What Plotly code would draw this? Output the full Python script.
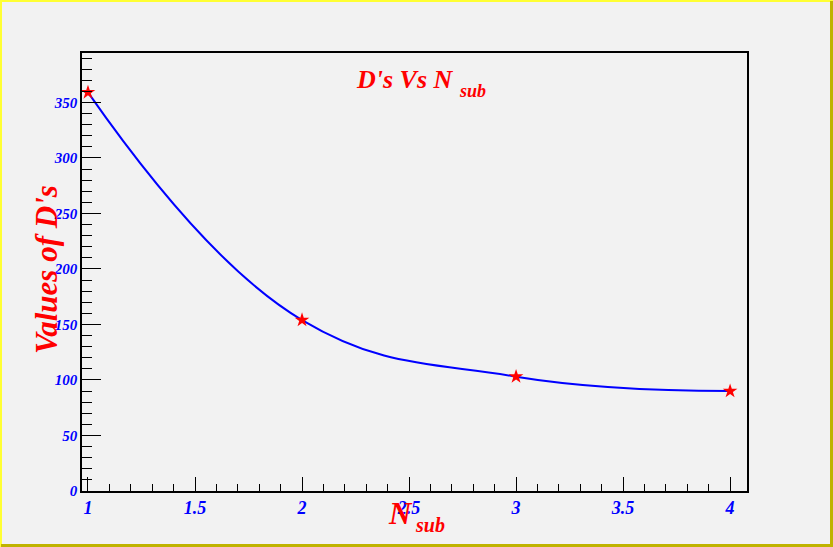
import plotly.graph_objects as go

# Data
n_sub = [1, 2, 3, 4]
d_values = [359, 154, 103, 90]

W, H = 833, 547
L, R, T, B = 82, 747, 53, 491
PW, PH = R - L, B - T

def px(x):
    return (x - L) / PW

def py(y):
    return (B - y) / PH

FONT = "Liberation Serif"
RED = "#ff0000"
BLUE = "#0000ff"

fig = go.Figure()
fig.add_trace(go.Scatter(
    x=n_sub, y=d_values, mode="lines",
    line=dict(color=BLUE, width=2, shape="spline", smoothing=1.2),
    hoverinfo="skip", showlegend=False))
fig.add_trace(go.Scatter(
    x=n_sub, y=d_values, mode="markers",
    marker=dict(symbol="star", color=RED, size=11, line=dict(width=0)),
    showlegend=False))

axis_common = dict(
    showgrid=False, zeroline=False, showline=True, linecolor="black",
    linewidth=1.5, mirror=True, ticks="inside", tickcolor="black",
    tickwidth=1,
)

fig.update_xaxes(
    **axis_common, range=[0.972, 4.079], tick0=1, dtick=0.5, ticklen=14,
    minor=dict(ticks="inside", dtick=0.1, tick0=1, ticklen=7, tickcolor="black"),
    tickfont=dict(family=FONT, size=18, color=BLUE, weight="bold", style="italic"),
)
fig.update_yaxes(
    **axis_common, range=[0, 394.5], tick0=0, dtick=50, ticklen=19,
    minor=dict(ticks="inside", dtick=10, tick0=0, ticklen=10, tickcolor="black"),
    tickfont=dict(family=FONT, size=15, color=BLUE, weight="bold", style="italic"),
)

def txt(s, x, y, size, angle=0, xanchor="center"):
    return dict(text=s, x=px(x), y=py(y), xref="paper", yref="paper",
                showarrow=False, textangle=angle, xanchor=xanchor, yanchor="middle",
                font=dict(family=FONT, size=size, color=RED, weight="bold", style="italic"))

annotations = [
    txt("D's Vs N", 405, 79, 26),
    txt("sub", 457, 91, 18, xanchor="left"),
    txt("Values of D's", 46, 270, 31, angle=-90),
    txt("N", 400, 513, 31),
    txt("sub", 413, 525, 20, xanchor="left"),
]

shapes = [
    dict(type="rect", xref="paper", yref="paper", x0=px(0), x1=px(2), y0=py(H), y1=py(0),
         fillcolor="#ffff33", line=dict(width=0), layer="above"),
    dict(type="rect", xref="paper", yref="paper", x0=px(0), x1=px(W), y0=py(2), y1=py(0),
         fillcolor="#ffff33", line=dict(width=0), layer="above"),
    dict(type="rect", xref="paper", yref="paper", x0=px(830), x1=px(W), y0=py(H), y1=py(1),
         fillcolor="#bfb300", line=dict(width=0), layer="above"),
    dict(type="rect", xref="paper", yref="paper", x0=px(1), x1=px(W), y0=py(H), y1=py(544),
         fillcolor="#bfb300", line=dict(width=0), layer="above"),
]

fig.update_layout(
    width=W, height=H, autosize=False,
    margin=dict(l=L, r=W - R, t=T, b=H - B, pad=0),
    paper_bgcolor="#f2f2f2", plot_bgcolor="#f2f2f2",
    annotations=annotations, shapes=shapes, showlegend=False,
)

fig.write_html("out.html", config={"displayModeBar": False},
               post_script="document.body.style.margin='0';")
